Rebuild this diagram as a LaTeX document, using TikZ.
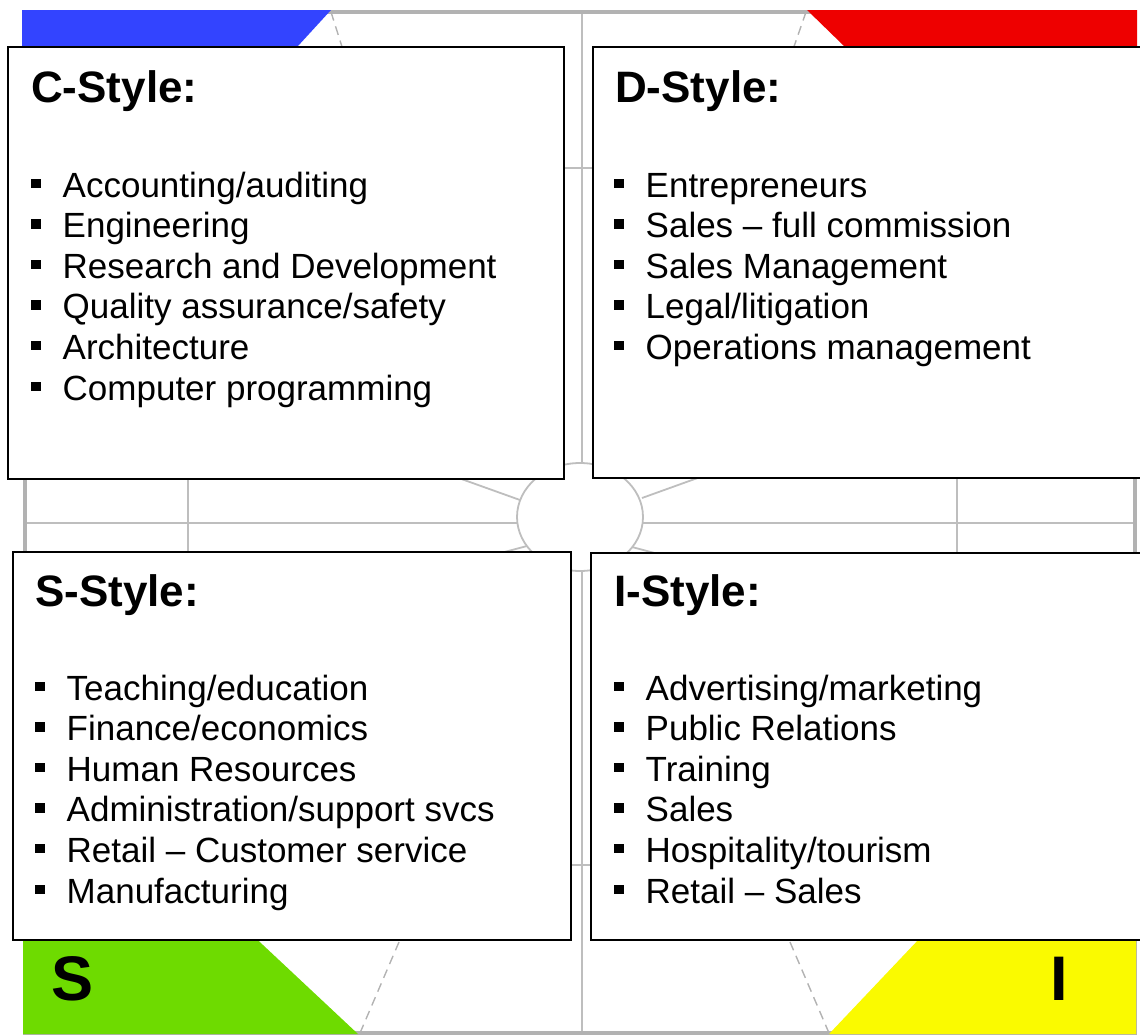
\documentclass[tikz,border=0pt]{standalone}
\usepackage{fontspec}
\setmainfont{Liberation Sans}
\usepackage{tikz}
\usetikzlibrary{calc}
\definecolor{discblue}{RGB}{51,68,255}
\definecolor{discred}{RGB}{238,0,0}
\definecolor{discgreen}{RGB}{110,219,0}
\definecolor{discyellow}{RGB}{250,250,0}
\definecolor{wheelgray}{RGB}{190,190,190}
\definecolor{rimgray}{RGB}{178,178,178}
\tikzset{wheel/.style={draw=wheelgray, line width=1.8pt}}
\tikzset{rim/.style={draw=rimgray, line width=4pt}}
\tikzset{cut/.style={draw=rimgray, dash pattern=on 9pt off 6pt, line width=1.4pt}}
\tikzset{panel/.style={draw=black, fill=white, line width=2.2pt}}
\tikzset{heading/.style={font=\fontsize{44}{50}\selectfont\bfseries}}
\tikzset{item/.style={font=\fontsize{35}{40}\selectfont}}
\tikzset{corner/.style={font=\fontsize{63}{70}\selectfont\bfseries}}
\newcommand{\sq}{\makebox[31.5pt][l]{\rule[9pt]{9.5pt}{9.5pt}}}

\begin{document}
\begin{tikzpicture}[x=1pt, y=-1pt]
	% Default action for each node
	\tikzstyle{every node}=[inner sep=0pt, anchor=base west];

	\useasboundingbox (0,0) rectangle (1140,1034);
	\clip (0,0) rectangle (1140,1034);

	\coordinate (topa) at (188,12);		\coordinate (topb) at (582,12);		\coordinate (topc) at (957,12);
	\coordinate (bota) at (188,1033);	\coordinate (botb) at (582,1033);	\coordinate (botc) at (957,1033);
	\coordinate (westa) at (25,168);	\coordinate (westb) at (25,523);	\coordinate (westc) at (25,865);
	\coordinate (easta) at (1135,168);	\coordinate (eastb) at (1135,523);	\coordinate (eastc) at (1135,865);

	% Grid under the panels
	\draw[wheel] (topa) -- (bota);
	\draw[wheel] (topb) -- (botb);
	\draw[wheel] (topc) -- (botc);
	\draw[wheel] (westa) -- (easta);
	\draw[wheel] (westb) -- (eastb);
	\draw[wheel] (westc) -- (eastc);

	% Rim
	\draw[rim] (25,12) rectangle (1135,1033);

	% Coloured corners
	\fill[discblue] (22,10) -- (331,10) -- (232,118) -- (22,118) -- cycle;
	\fill[discred] (807,10) -- (1137,10) -- (1137,118) -- (918,118) -- cycle;
	\fill[discgreen] (23,900) -- (215,900) -- (358,1034) -- (23,1034) -- cycle;
	\fill[discyellow] (956,900) -- (1136,900) -- (1136,1034) -- (829,1034) -- cycle;

	% Dashed cuts
	\coordinate (cutnw) at (331,12);	\coordinate (cutnwin) at (362,110);
	\coordinate (cutne) at (806,12);	\coordinate (cutnein) at (772,110);
	\coordinate (cutsw) at (360,1033);	\coordinate (cutswin) at (417,900);
	\coordinate (cutse) at (829,1033);	\coordinate (cutsein) at (772,900);
	\draw[cut] (cutnw) -- (cutnwin);
	\draw[cut] (cutne) -- (cutnein);
	\draw[cut] (cutsw) -- (cutswin);
	\draw[cut] (cutse) -- (cutsein);

	% Spokes and hub
	\coordinate (spokenw) at (520,500);	\coordinate (spokenwout) at (255,405);
	\coordinate (spokene) at (642,498);	\coordinate (spokeneout) at (892,408);
	\coordinate (spokesw) at (527,546);	\coordinate (spokeswout) at (377,586);
	\coordinate (spokese) at (632,547);	\coordinate (spokeseout) at (782,587);
	\draw[wheel] (spokenw) -- (spokenwout);
	\draw[wheel] (spokene) -- (spokeneout);
	\draw[wheel] (spokesw) -- (spokeswout);
	\draw[wheel] (spokese) -- (spokeseout);
	\filldraw[wheel, fill=white] (580,517) ellipse [x radius=63pt, y radius=54pt];

	% Panels
	\draw[panel] (8,47) rectangle (564,479);
	\draw[panel] (593,47) rectangle (1160,478);
	\draw[panel] (13,552) rectangle (571,940);
	\draw[panel] (591,553) rectangle (1160,940);

	% C panel
	\node[heading] (ctitle) at (31,102) {C-Style:};
	\node[item] (c1) at (31,197) {\sq Accounting/auditing};
	\node[item] (c2) at (31,237.6) {\sq Engineering};
	\node[item] (c3) at (31,278.2) {\sq Research and Development};
	\node[item] (c4) at (31,318.8) {\sq Quality assurance/safety};
	\node[item] (c5) at (31,359.4) {\sq Architecture};
	\node[item] (c6) at (31,400) {\sq Computer programming};

	% D panel
	\node[heading] (dtitle) at (615,102) {D-Style:};
	\node[item] (d1) at (614,197) {\sq Entrepreneurs};
	\node[item] (d2) at (614,237.6) {\sq Sales – full commission};
	\node[item] (d3) at (614,278.2) {\sq Sales Management};
	\node[item] (d4) at (614,318.8) {\sq Legal/litigation};
	\node[item] (d5) at (614,359.4) {\sq Operations management};

	% S panel
	\node[heading] (stitle) at (35,606) {S-Style:};
	\node[item] (s1) at (35,700) {\sq Teaching/education};
	\node[item] (s2) at (35,740.6) {\sq Finance/economics};
	\node[item] (s3) at (35,781.2) {\sq Human Resources};
	\node[item] (s4) at (35,821.8) {\sq Administration/support svcs};
	\node[item] (s5) at (35,862.4) {\sq Retail – Customer service};
	\node[item] (s6) at (35,903) {\sq Manufacturing};

	% I panel
	\node[heading] (ititle) at (614,606) {I-Style:};
	\node[item] (i1) at (614,700) {\sq Advertising/marketing};
	\node[item] (i2) at (614,740.6) {\sq Public Relations};
	\node[item] (i3) at (614,781.2) {\sq Training};
	\node[item] (i4) at (614,821.8) {\sq Sales};
	\node[item] (i5) at (614,862.4) {\sq Hospitality/tourism};
	\node[item] (i6) at (614,903) {\sq Retail – Sales};

	% Corner letters
	\node[corner] (sletter) at (51,1000) {S};
	\node[corner] (iletter) at (1050,1000) {I};
\end{tikzpicture}
\end{document}
